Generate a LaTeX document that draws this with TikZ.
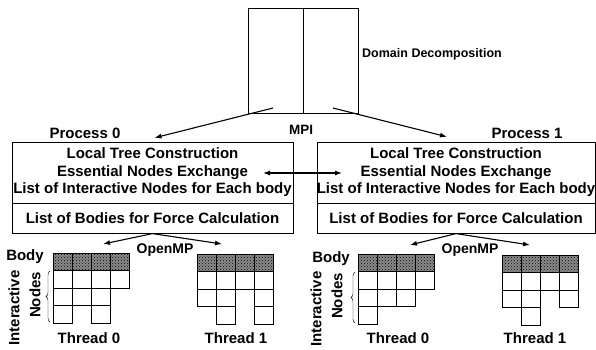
\documentclass[tikz,border=0pt]{standalone}
\usepackage{fontspec}
\setmainfont{Liberation Sans}
\usetikzlibrary{positioning, arrows.meta, decorations.pathreplacing, patterns}
\tikzset{>={Latex[length=7pt,width=5pt]}}

\begin{document}
\begin{tikzpicture}[x=1pt,y=-1pt,
  every node/.style={font=\fontsize{15}{17.5}\selectfont\bfseries, inner sep=0pt},
  procbox/.style={draw, align=center, minimum height=61},
  listbox/.style={draw, align=center, minimum height=30},
  small/.style={font=\fontsize{12.5}{14}\selectfont\bfseries},
  link/.style={->, line width=1.1pt},
  cell/.style={draw, line width=0.8pt},
  bodyrow/.style={fill=black!45, postaction={pattern=crosshatch dots, pattern color=black}}]
\useasboundingbox (0,0) rectangle (596,349);
% domain decomposition
\node[draw, minimum width=110, minimum height=105] (dom) at (303,60.5) {};
\draw (dom.north) -- (dom.south);
\node[small, anchor=west] (domlabel) at (362,54) {Domain Decomposition};
\coordinate (mpiL) at (273,108);
\coordinate (mpiR) at (333,108);
\node[font=\fontsize{13.5}{15}\selectfont\bfseries] (mpi) at (301,130) {MPI};

% two processes
\node (proc0) at (85,133) {Process 0};
\node (proc1) at (527,133) {Process 1};
\node[procbox, minimum width=281] (p0) at (152.5,172.5)
  {Local Tree Construction\\Essential Nodes Exchange\\List of Interactive Nodes for Each body};
\node[listbox, minimum width=281, below=0pt of p0] (p0list) {List of Bodies for Force Calculation};
\node[procbox, minimum width=278] (p1) at (456,172.5)
  {Local Tree Construction\\Essential Nodes Exchange\\List of Interactive Nodes for Each body};
\node[listbox, minimum width=278, below=0pt of p1] (p1list) {List of Bodies for Force Calculation};

\draw[link] (mpiL) -- ([yshift=4pt,xshift=2pt]p0.north);
\draw[link] (mpiR) -- ([yshift=5pt,xshift=-9pt]p1.north);
\coordinate (exL) at (263,173);
\coordinate (exR) at (342,173);
\draw[link, <->] (exL) -- (exR);

% openmp
\node[font=\fontsize{14}{16}\selectfont\bfseries] (omp0) at (165,250) {OpenMP};
\node[font=\fontsize{14}{16}\selectfont\bfseries] (omp1) at (470,250) {OpenMP};
\coordinate (t00) at (103,244);
\coordinate (t01) at (222,244);
\coordinate (t10) at (410,245);
\coordinate (t11) at (530,245);
\draw[link] (p0list.south) -- (t00);
\draw[link] (p0list.south) -- (t01);
\draw[link] (p1list.south) -- (t10);
\draw[link] (p1list.south) -- (t11);

% thread tables, left process
\begin{scope}[shift={(53,253)}]
  \fill[bodyrow] (0,0) rectangle (76,17.5);
  \foreach \c/\r in {0/0,1/0,2/0,3/0,0/1,1/1,2/1,3/1,0/2,1/2,2/2,0/3,2/3}
    \draw[cell] (\c*19,\r*17.5) rectangle ++(19,17.5);
\end{scope}
\begin{scope}[shift={(197,254)}]
  \fill[bodyrow] (0,0) rectangle (76,17.5);
  \foreach \c/\r in {0/0,1/0,2/0,3/0,0/1,1/1,2/1,3/1,0/2,1/2,3/2,1/3,3/3}
    \draw[cell] (\c*19,\r*17.5) rectangle ++(19,17.5);
\end{scope}
% thread tables, right process
\begin{scope}[shift={(358,254)}]
  \fill[bodyrow] (0,0) rectangle (76,17.5);
  \foreach \c/\r in {0/0,1/0,2/0,3/0,0/1,1/1,2/1,3/1,0/2,1/2,2/2,0/3}
    \draw[cell] (\c*19,\r*17.5) rectangle ++(19,17.5);
\end{scope}
\begin{scope}[shift={(502,255)}]
  \fill[bodyrow] (0,0) rectangle (76,17.5);
  \foreach \c/\r in {0/0,1/0,2/0,3/0,0/1,1/1,2/1,3/1,0/2,1/2,3/2,1/3}
    \draw[cell] (\c*19,\r*17.5) rectangle ++(19,17.5);
\end{scope}

% labels of the tables
\node (body0) at (25,257) {Body};
\node[rotate=90] (inter0) at (14,308) {Interactive};
\node[rotate=90] (nodes0) at (35,295) {Nodes};
\draw[decorate, decoration={brace, amplitude=4pt}] (50,322) -- (50,271);
\node (body1) at (331,259) {Body};
\node[rotate=90] (inter1) at (316,309) {Interactive};
\node[rotate=90] (nodes1) at (337,296) {Nodes};
\draw[decorate, decoration={brace, amplitude=4pt}] (355,323) -- (355,272);

\node (th00) at (89,338) {Thread 0};
\node (th01) at (236,338) {Thread 1};
\node (th10) at (398,338) {Thread 0};
\node (th11) at (535,338) {Thread 1};
\end{tikzpicture}
\end{document}
